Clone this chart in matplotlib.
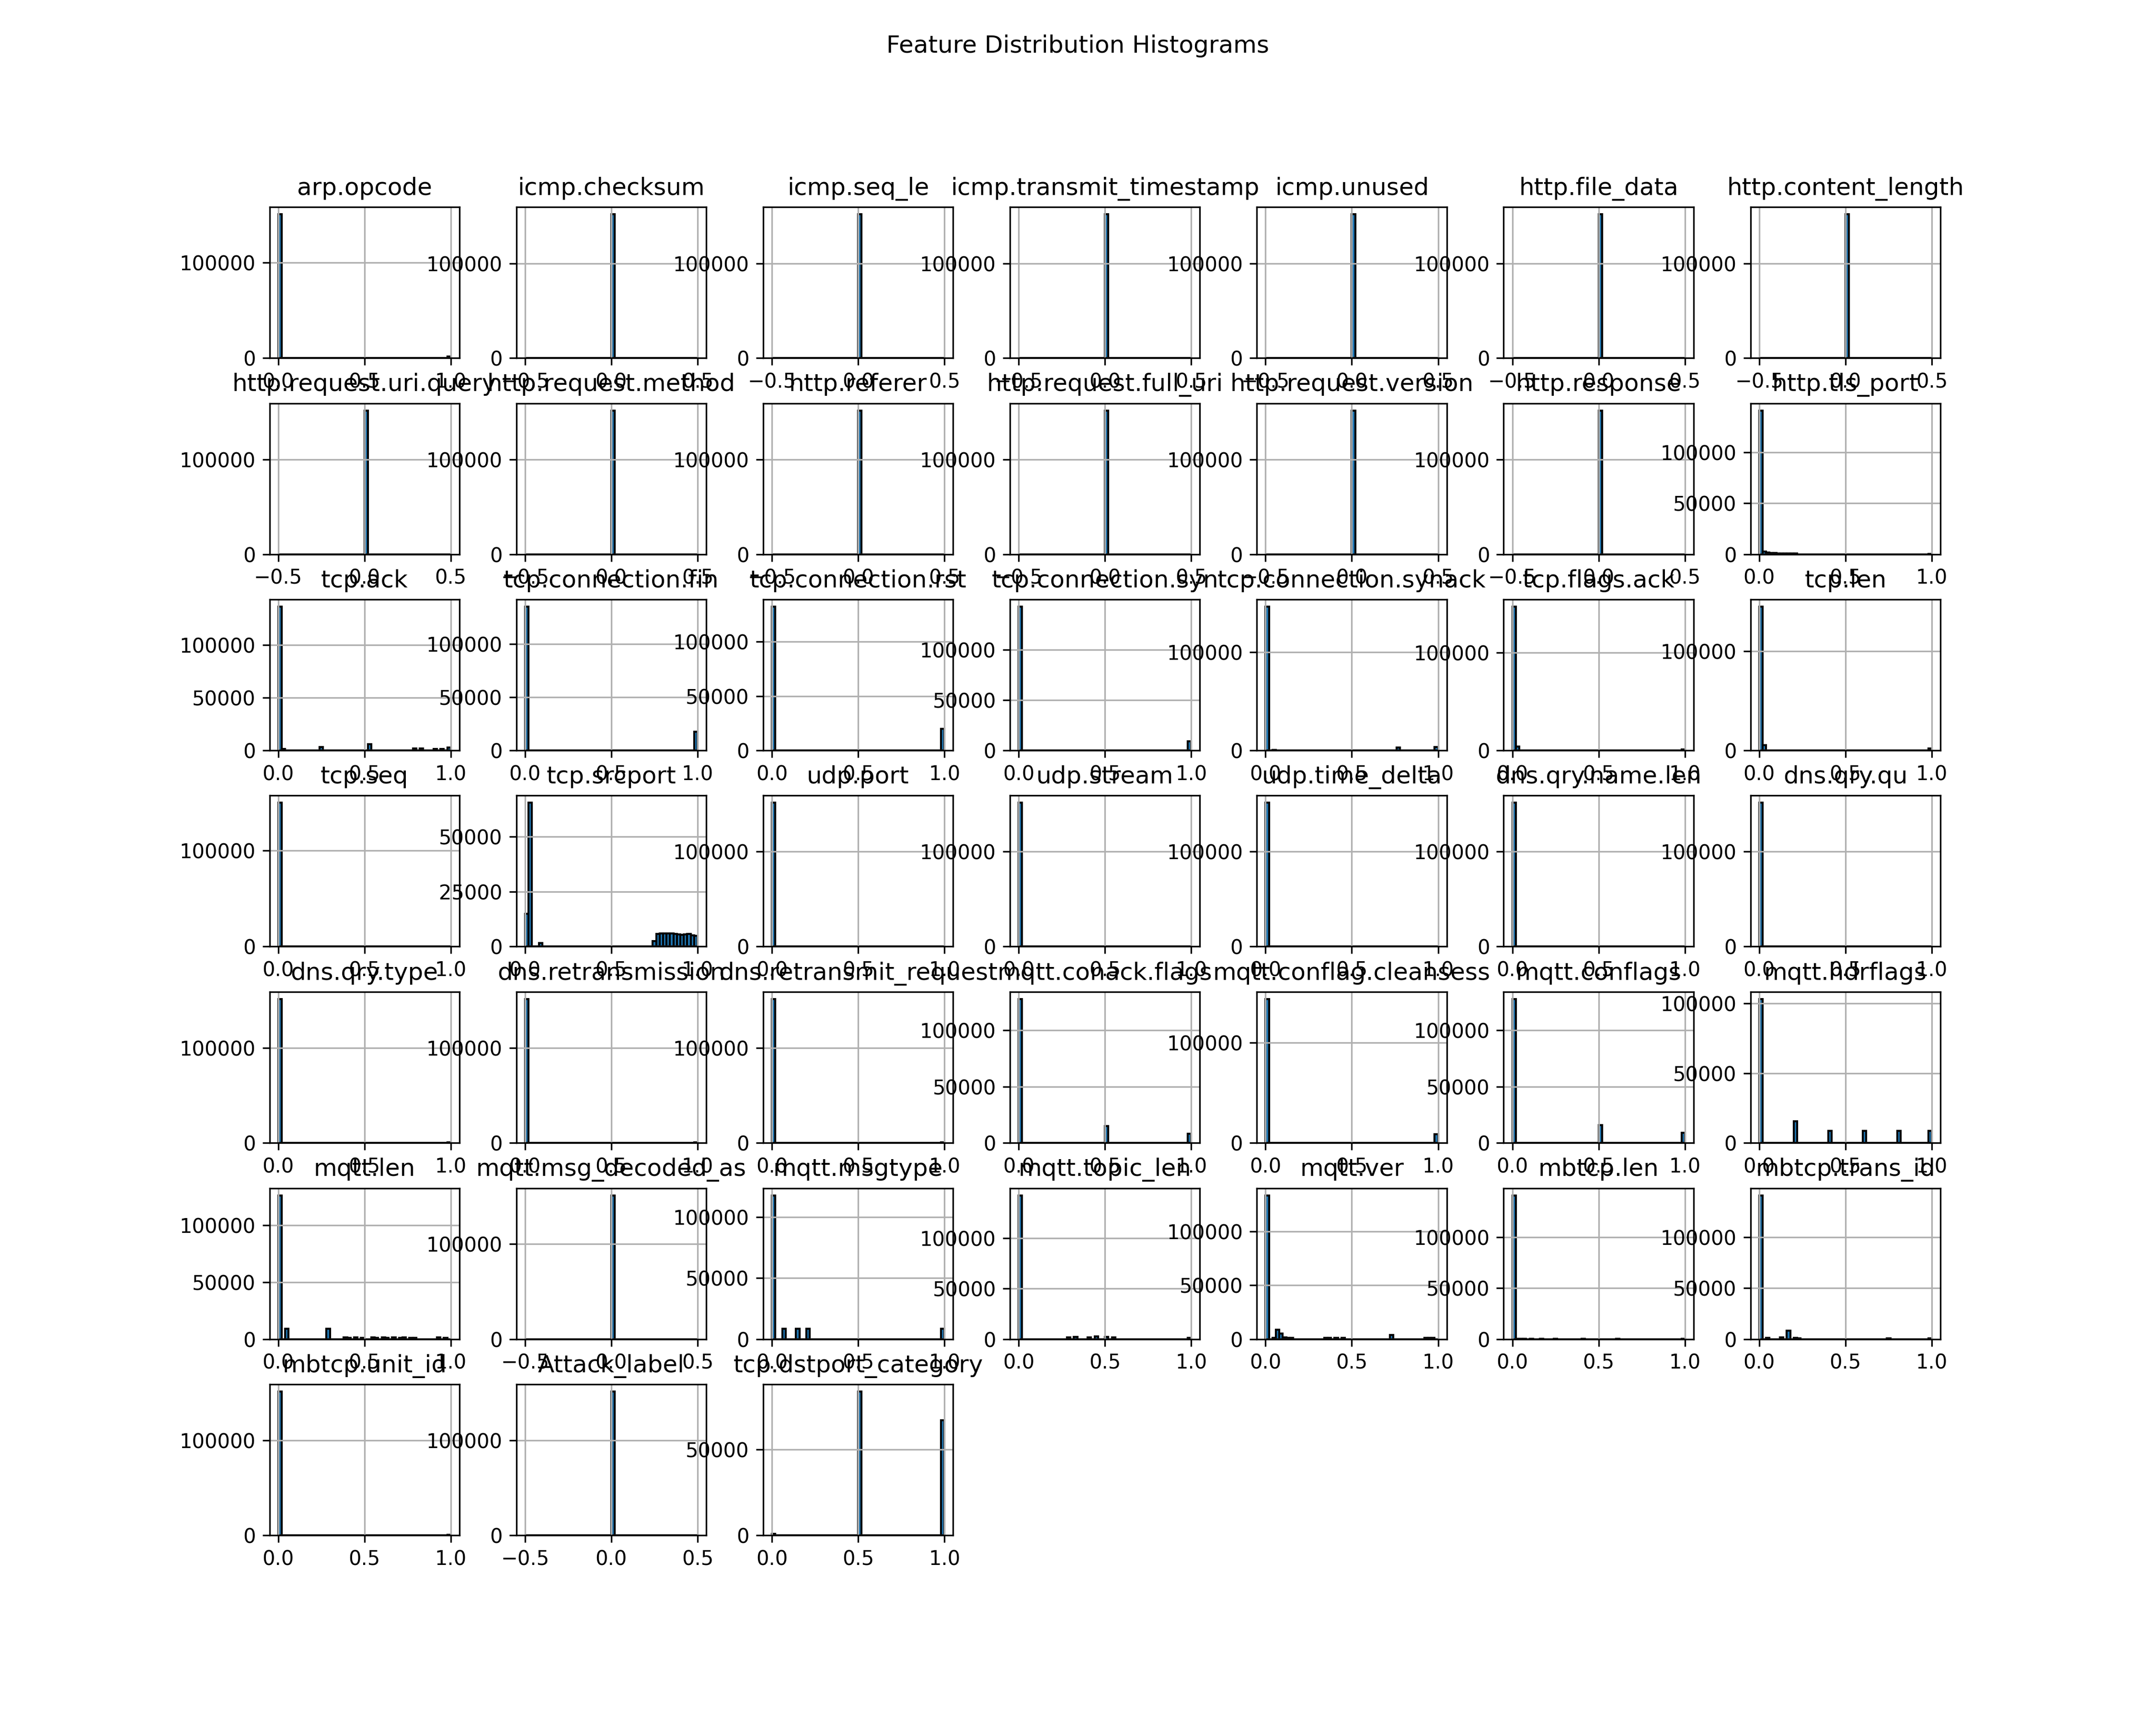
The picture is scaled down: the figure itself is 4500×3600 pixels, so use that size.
import numpy as np
import matplotlib.pyplot as plt

# column names in the order of the grid
features = [
    'arp.opcode', 'icmp.checksum', 'icmp.seq_le', 'icmp.transmit_timestamp',
    'icmp.unused', 'http.file_data', 'http.content_length',
    'http.request.uri.query', 'http.request.method', 'http.referer',
    'http.request.full_uri', 'http.request.version', 'http.response', 'http.tls_port',
    'tcp.ack', 'tcp.connection.fin', 'tcp.connection.rst', 'tcp.connection.syn',
    'tcp.connection.synack', 'tcp.flags.ack', 'tcp.len',
    'tcp.seq', 'tcp.srcport', 'udp.port', 'udp.stream', 'udp.time_delta',
    'dns.qry.name.len', 'dns.qry.qu',
    'dns.qry.type', 'dns.retransmission', 'dns.retransmit_request',
    'mqtt.conack.flags', 'mqtt.conflag.cleansess', 'mqtt.conflags', 'mqtt.hdrflags',
    'mqtt.len', 'mqtt.msg_decoded_as', 'mqtt.msgtype', 'mqtt.topic_len',
    'mqtt.ver', 'mbtcp.len', 'mbtcp.trans_id',
    'mbtcp.unit_id', 'Attack_label', 'tcp.dstport_category',
]

# columns that hold a single value (numpy widens their range to -0.5..0.5)
const_features = [
    'icmp.checksum', 'icmp.seq_le', 'icmp.transmit_timestamp', 'icmp.unused',
    'http.file_data', 'http.content_length', 'http.request.uri.query',
    'http.request.method', 'http.referer', 'http.request.full_uri',
    'http.request.version', 'http.response', 'mqtt.msg_decoded_as', 'Attack_label',
]

n_bins = 50

# bin index -> count (empty bins are 0)
counts = {
    'arp.opcode': {0: 150500, 49: 1500},
    'icmp.checksum': {25: 152000},
    'icmp.seq_le': {25: 152000},
    'icmp.transmit_timestamp': {25: 152000},
    'icmp.unused': {25: 152000},
    'http.file_data': {25: 152000},
    'http.content_length': {25: 152000},
    'http.request.uri.query': {25: 152000},
    'http.request.method': {25: 152000},
    'http.referer': {25: 152000},
    'http.request.full_uri': {25: 152000},
    'http.request.version': {25: 152000},
    'http.response': {25: 152000},
    'http.tls_port': {0: 141400, 1: 2500, 2: 1500, 3: 1200, 4: 1000, 5: 900, 6: 800,
                      7: 800, 8: 700, 9: 600, 10: 500, 49: 100},
    'tcp.ack': {0: 136200, 1: 1400, 12: 3200, 26: 6000, 39: 1800, 41: 1800,
                45: 1400, 47: 1400, 49: 2800},
    'tcp.connection.fin': {0: 135000, 49: 17500},
    'tcp.connection.rst': {0: 132400, 49: 19700},
    'tcp.connection.syn': {0: 142800, 49: 9100},
    'tcp.connection.synack': {0: 146000, 2: 500, 38: 3000, 49: 3500},
    'tcp.flags.ack': {0: 146700, 1: 4000, 49: 1100},
    'tcp.len': {0: 145100, 1: 5100, 49: 2100},
    'tcp.seq': {0: 150000, 49: 300},
    'tcp.srcport': {0: 14900, 1: 65500, 4: 1600, 37: 2550, 38: 5800, 39: 5950,
                    40: 5950, 41: 5950, 42: 6000, 43: 5700, 44: 5500, 45: 5400,
                    46: 5600, 47: 5700, 48: 5200, 49: 4900},
    'udp.port': {0: 151500, 49: 500},
    'udp.stream': {0: 151500, 49: 500},
    'udp.time_delta': {0: 151500, 49: 500},
    'dns.qry.name.len': {0: 151500, 49: 500},
    'dns.qry.qu': {0: 151500, 49: 500},
    'dns.qry.type': {0: 151500, 49: 500},
    'dns.retransmission': {0: 151500, 49: 500},
    'dns.retransmit_request': {0: 151500, 49: 500},
    'mqtt.conack.flags': {0: 127800, 25: 14900, 49: 8200},
    'mqtt.conflag.cleansess': {0: 143300, 49: 8700},
    'mqtt.conflags': {0: 127800, 25: 15600, 49: 8800},
    'mqtt.hdrflags': {0: 103100, 10: 15400, 20: 8700, 30: 8700, 40: 8700, 49: 8700},
    'mqtt.len': {0: 126400, 2: 9100, 14: 9100, 19: 1400, 20: 1000, 22: 1400,
                 24: 1200, 27: 1400, 28: 1000, 30: 1400, 31: 1000, 33: 1400,
                 35: 1000, 36: 1400, 38: 1200, 39: 1000, 46: 1400, 48: 1200},
    'mqtt.msg_decoded_as': {25: 151000},
    'mqtt.msgtype': {0: 117900, 3: 8500, 7: 8500, 10: 8500, 49: 8500},
    'mqtt.topic_len': {0: 142700, 14: 1500, 16: 2000, 20: 1500, 22: 2500,
                       25: 2000, 27: 1500, 49: 1000},
    'mqtt.ver': {0: 133600, 2: 900, 3: 8900, 4: 4900, 5: 1500, 6: 900, 7: 900,
                 17: 900, 18: 900, 20: 900, 22: 900, 36: 4000, 46: 900, 47: 900, 48: 900},
    'mbtcp.len': {0: 141000, 1: 300, 2: 200, 3: 200, 5: 150, 8: 150, 12: 100,
                  20: 100, 30: 100, 49: 100},
    'mbtcp.trans_id': {0: 141500, 2: 1000, 6: 1800, 8: 8100, 10: 1000, 11: 800,
                       37: 500, 49: 500},
    'mbtcp.unit_id': {0: 151500, 49: 500},
    'Attack_label': {25: 151500},
    'tcp.dstport_category': {0: 800, 25: 83900, 49: 67100},
}

fig, axes = plt.subplots(7, 7, figsize=(15, 12))

for ax, name in zip(axes.flat, features):
    lo, hi = (-0.5, 0.5) if name in const_features else (0.0, 1.0)
    edges = np.linspace(lo, hi, n_bins + 1)
    w = np.zeros(n_bins)
    for b, c in counts[name].items():
        w[b] = c
    centers = (edges[:-1] + edges[1:]) / 2
    ax.hist(centers, bins=edges, weights=w, edgecolor='black')
    ax.set_title(name)
    ax.grid(True)

# hide the empty slots at the end of the grid
for ax in axes.flat[len(features):]:
    ax.set_visible(False)

fig.subplots_adjust(wspace=0.3, hspace=0.3)
fig.suptitle('Feature Distribution Histograms')

plt.savefig('out.png', dpi=300)
